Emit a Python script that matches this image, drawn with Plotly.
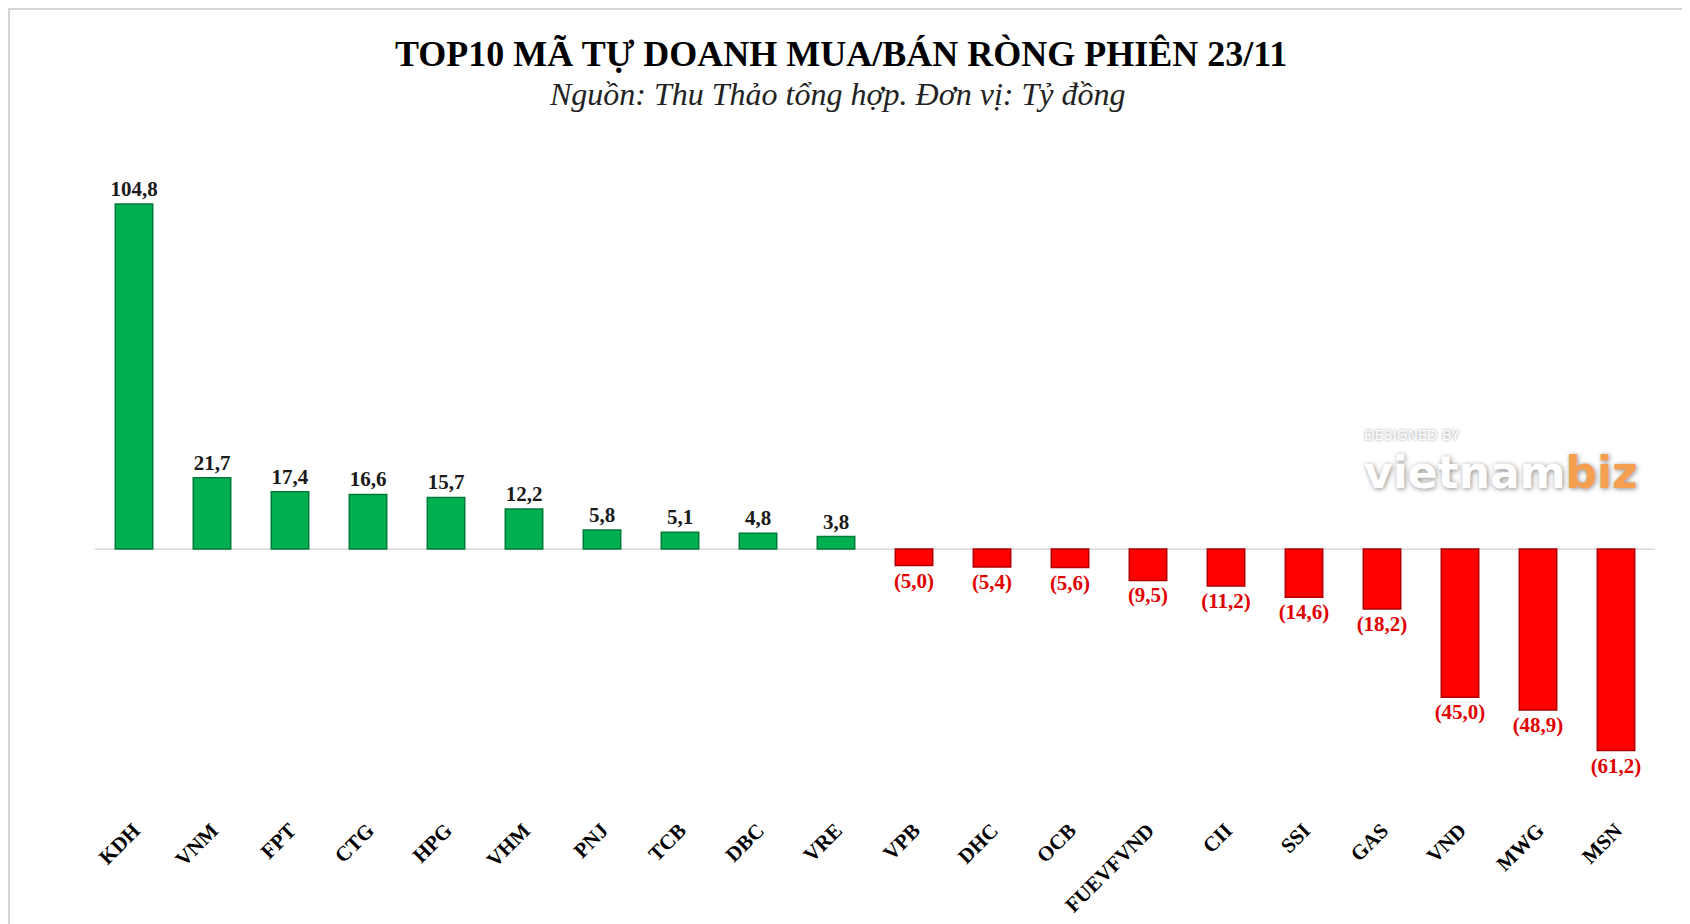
import plotly.graph_objects as go

categories = ["KDH", "VNM", "FPT", "CTG", "HPG", "VHM", "PNJ", "TCB", "DBC", "VRE",
              "VPB", "DHC", "OCB", "FUEVFVND", "CII", "SSI", "GAS", "VND", "MWG", "MSN"]
values = [104.8, 21.7, 17.4, 16.6, 15.7, 12.2, 5.8, 5.1, 4.8, 3.8,
          -5.0, -5.4, -5.6, -9.5, -11.2, -14.6, -18.2, -45.0, -48.9, -61.2]

title_text = "TOP10 MÃ TỰ DOANH MUA/BÁN RÒNG PHIÊN 23/11"
subtitle_text = "Nguồn: Thu Thảo tổng hợp. Đơn vị: Tỷ đồng"


def fmt(v):
    s = f"{abs(v):.1f}".replace(".", ",")
    return f"<b>({s})</b>" if v < 0 else f"<b>{s}</b>"


labels = [fmt(v) for v in values]
colors = ["#00B050" if v >= 0 else "#FF0000" for v in values]
line_colors = ["#007A38" if v >= 0 else "#B00000" for v in values]
text_colors = ["#1A1A1A" if v >= 0 else "#E00000" for v in values]

L, R, T, B = 87, 43, 146, 159
W, H = 1690, 924
pw, ph = W - L - R, H - T - B

fig = go.Figure()
fig.add_trace(go.Bar(
    x=categories,
    y=values,
    marker=dict(color=colors, line=dict(color=line_colors, width=1.5)),
    text=labels,
    textposition="outside",
    constraintext="none",
    textfont=dict(family="Liberation Serif", size=21, color=text_colors),
    cliponaxis=False,
    hoverinfo="x+y",
))

fig.update_layout(
    width=W,
    height=H,
    paper_bgcolor="white",
    plot_bgcolor="white",
    margin=dict(l=L, r=R, t=T, b=B),
    bargap=0.52,
    showlegend=False,
    font=dict(family="Liberation Serif", color="#000000"),
    xaxis=dict(
        tickangle=-45,
        tickfont=dict(family="Liberation Serif", size=21, color="#000000", weight="bold"),
        showgrid=False,
        showline=False,
        ticks="",
        ticklabelstandoff=40,
    ),
    yaxis=dict(
        range=[-68, 120],
        visible=False,
        showgrid=False,
        zeroline=False,
    ),
    shapes=[
        dict(type="line", xref="paper", yref="y", x0=0, x1=1, y0=0, y1=0,
             line=dict(color="#D0D0D0", width=1.2), layer="below"),
        dict(type="rect", xref="paper", yref="paper",
             x0=-(L - 1) / pw, x1=1 + (R - 1) / pw,
             y0=-(B - 1) / ph, y1=1 + (T - 1) / ph,
             line=dict(color="#C8C8C8", width=1.5)),
    ],
    annotations=[
        dict(text="<b>" + title_text + "</b>", xref="paper", yref="paper",
             x=0.478, y=1.0, xanchor="center", yanchor="bottom", yshift=78,
             showarrow=False,
             font=dict(family="Liberation Serif", size=36, color="#000000")),
        dict(text="<i>" + subtitle_text + "</i>", xref="paper", yref="paper",
             x=0.476, y=1.0, xanchor="center", yanchor="bottom", yshift=40,
             showarrow=False,
             font=dict(family="Liberation Serif", size=32, color="#222222")),
        dict(text="DESIGNED BY", xref="paper", yref="paper", x=0.812, y=0.53,
             xanchor="left", yanchor="bottom", showarrow=False,
             font=dict(family="DejaVu Sans", size=14, color="#FFFFFF",
                       shadow="0px 0px 3px #8A8A8A")),
        dict(text="<b>vietnam</b><b><span style='color:#F5A050'>biz</span></b>",
             xref="paper", yref="paper", x=0.812, y=0.53,
             xanchor="left", yanchor="top", showarrow=False,
             font=dict(family="DejaVu Sans", size=44, color="#FFFFFF",
                       shadow="1px 1px 5px #8A8A8A")),
    ],
)

fig.write_html("out.html")
